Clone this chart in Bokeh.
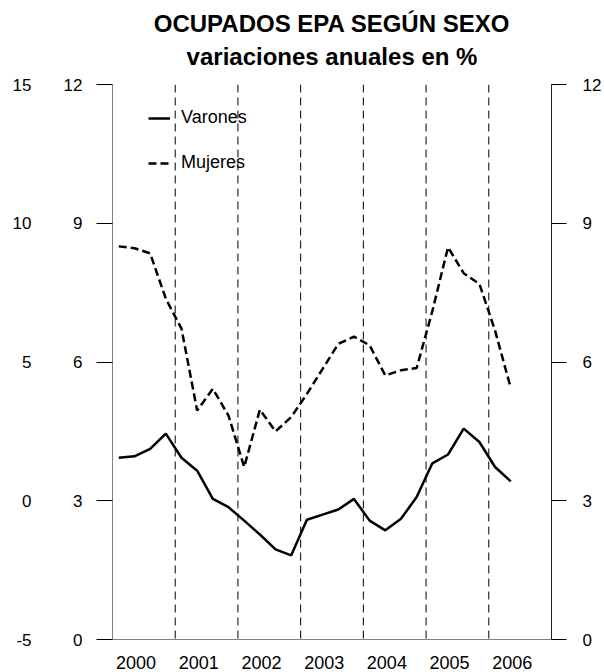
from bokeh.plotting import figure
from bokeh.models import (LinearAxis, Range1d, FixedTicker, Span, Title,
                          Legend, LegendItem, ColumnDataSource)
from bokeh.embed import file_html
from bokeh.resources import INLINE

# ---- data (variaciones anuales en %) ----
anio = [2000, 2000, 2000, 2000, 2001, 2001, 2001, 2001, 2002, 2002, 2002, 2002,
        2003, 2003, 2003, 2003, 2004, 2004, 2004, 2004, 2005, 2005, 2005, 2005,
        2006, 2006]
trimestre = [1, 2, 3, 4, 1, 2, 3, 4, 1, 2, 3, 4, 1, 2, 3, 4, 1, 2, 3, 4,
             1, 2, 3, 4, 1, 2]
varones = [3.93, 3.96, 4.12, 4.45, 3.93, 3.65, 3.04, 2.86, 2.57, 2.27, 1.95, 1.82,
           2.59, 2.70, 2.81, 3.04, 2.57, 2.36, 2.61, 3.08, 3.81, 4.00, 4.56, 4.27,
           3.73, 3.42]
mujeres = [8.50, 8.46, 8.35, 7.37, 6.72, 4.95, 5.42, 4.84, 3.73, 4.97, 4.50, 4.81,
           5.31, 5.85, 6.39, 6.55, 6.36, 5.71, 5.82, 5.87, 7.10, 8.48, 7.92, 7.69,
           6.68, 5.44]
years_axis = [2000, 2001, 2002, 2003, 2004, 2005, 2006]
year_labels = ["2000", "2001", "2002", "2003", "2004", "2005", "2006"]
ticks_main = [0, 3, 6, 9, 12]
ticks_outer = [-5, 0, 5, 10, 15]
outer_labels = ["-5", "0", "5", "10", "15"]

x = [a + (t - 1) * 0.25 + 0.1 for a, t in zip(anio, trimestre)]
src = ColumnDataSource(dict(x=x, varones=varones, mujeres=mujeres))

FONT = "Liberation Sans"

p = figure(width=604, height=672, x_range=Range1d(2000, 2007), y_range=Range1d(0, 12),
           output_backend="svg", toolbar_location=None,
           min_border_left=112, min_border_right=53, min_border_top=84,
           min_border_bottom=33, title="OCUPADOS EPA SEGÚN SEXO")
p.extra_y_ranges = {"outer": Range1d(-5, 15)}
p.outline_line_color = None
p.grid.visible = False
p.background_fill_color = "white"

# titles
p.title.align = "center"
p.title.text_font = FONT
p.title.text_font_size = "24px"
p.title.text_font_style = "bold"
p.title.text_color = "black"
p.title.standoff = -20
p.add_layout(Title(text="variaciones anuales en %", align="center", text_font=FONT,
                   text_font_size="24px", text_font_style="bold", text_color="black",
                   standoff=29), "above")

# main left axis
ya = p.yaxis[0]
ya.ticker = FixedTicker(ticks=ticks_main)
ya.major_tick_out = 16
ya.major_tick_in = 0
ya.minor_tick_out = 0
ya.minor_tick_in = 0
ya.major_tick_line_color = "black"
ya.axis_line_color = "#808080"
ya.major_label_standoff = 14
ya.major_label_text_font = FONT
ya.major_label_text_font_size = "17px"
ya.major_label_text_color = "black"

# outer left axis (-5..15)
yo = LinearAxis(y_range_name="outer", ticker=FixedTicker(ticks=ticks_outer))
yo.major_label_overrides = {t: lab for t, lab in zip(ticks_outer, outer_labels)}
yo.axis_line_color = None
yo.major_tick_line_color = None
yo.minor_tick_line_color = None
yo.major_tick_out = 0
yo.major_tick_in = 0
yo.major_label_standoff = 29
yo.major_label_text_font = FONT
yo.major_label_text_font_size = "17px"
yo.major_label_text_color = "black"
p.add_layout(yo, "left")

# right axis
yr = LinearAxis(ticker=FixedTicker(ticks=ticks_main))
yr.major_tick_out = 15
yr.major_tick_in = 0
yr.minor_tick_out = 0
yr.minor_tick_in = 0
yr.major_tick_line_color = "black"
yr.axis_line_color = "#202020"
yr.major_label_standoff = 16
yr.major_label_text_font = FONT
yr.major_label_text_font_size = "17px"
yr.major_label_text_color = "black"
p.add_layout(yr, "right")

# x axis
xa = p.xaxis[0]
xa.ticker = FixedTicker(ticks=[y + 0.375 for y in years_axis])
xa.major_label_overrides = {y + 0.375: lab for y, lab in zip(years_axis, year_labels)}
xa.major_tick_line_color = None
xa.minor_tick_line_color = None
xa.major_tick_out = 0
xa.major_tick_in = 0
xa.axis_line_color = "#808080"
xa.major_label_standoff = 16
xa.major_label_text_font = FONT
xa.major_label_text_font_size = "18px"
xa.major_label_text_color = "black"

# vertical dashed year separators
for yv in years_axis:
    p.add_layout(Span(location=yv, dimension="height", line_color="black",
                      line_width=1, line_dash="8 5", level="underlay"))

r_v = p.line("x", "varones", source=src, line_color="black", line_width=2.5)
r_m = p.line("x", "mujeres", source=src, line_color="black", line_width=2.5,
             line_dash="8 4")

legend = Legend(items=[LegendItem(label="Varones", renderers=[r_v]),
                       LegendItem(label="Mujeres", renderers=[r_m])],
                location=(36, 466), margin=0, padding=0, spacing=24,
                glyph_width=22, glyph_height=20, label_height=20, label_standoff=11,
                label_text_font=FONT, label_text_font_size="18px",
                label_text_color="black", background_fill_alpha=0,
                border_line_color=None)
p.add_layout(legend, "center")

open("out.html", "w").write(file_html(p, INLINE))
